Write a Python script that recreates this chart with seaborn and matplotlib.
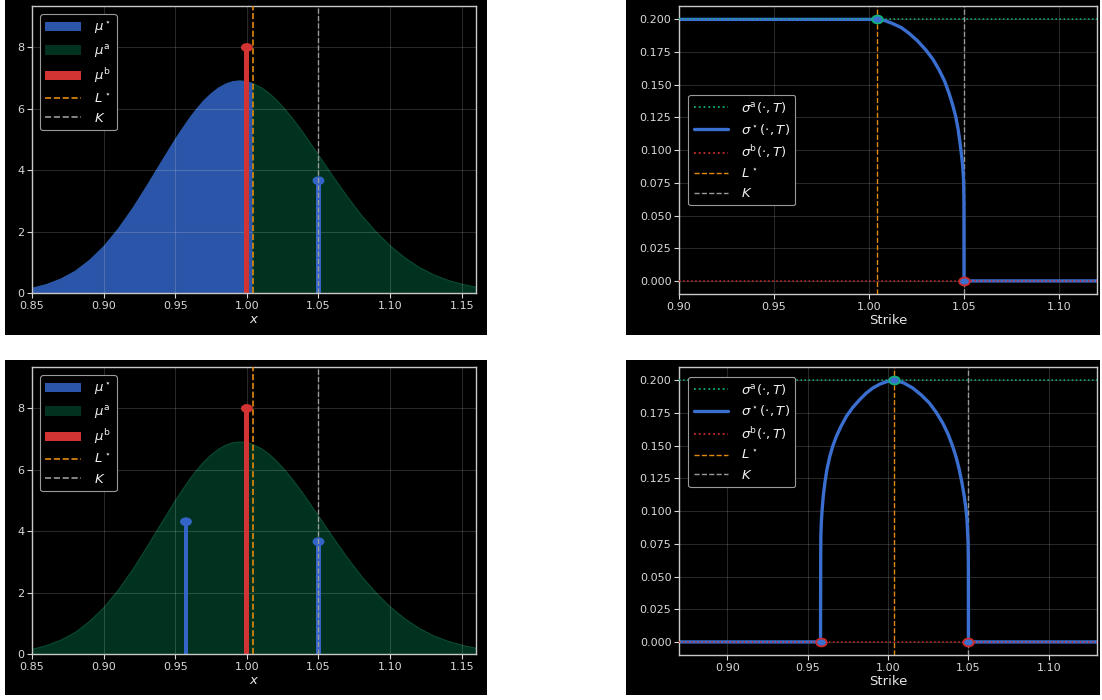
import numpy as np
import matplotlib.pyplot as plt
import seaborn as sns
from matplotlib.patches import Patch, Rectangle
from matplotlib.lines import Line2D
from matplotlib.markers import MarkerStyle
from matplotlib.transforms import Affine2D

# --- data ---
x_grid = [0.85, 0.86, 0.87, 0.88, 0.89, 0.90, 0.91, 0.92, 0.93, 0.94,
          0.95, 0.955, 0.96, 0.965, 0.97, 0.975, 0.98, 0.985, 0.99, 0.995,
          1.00, 1.004, 1.01, 1.015, 1.02, 1.025, 1.03, 1.035, 1.04, 1.045,
          1.05, 1.06, 1.07, 1.08, 1.09, 1.10, 1.11, 1.12, 1.13, 1.14,
          1.15, 1.16]
density = [0.17, 0.29, 0.47, 0.72, 1.08, 1.53, 2.10, 2.76, 3.50, 4.27,
           5.03, 5.38, 5.72, 6.02, 6.29, 6.51, 6.69, 6.82, 6.90, 6.925,
           6.90, 6.84, 6.70, 6.53, 6.32, 6.07, 5.79, 5.49, 5.17, 4.83,
           4.49, 3.80, 3.14, 2.53, 2.00, 1.54, 1.16, 0.85, 0.61, 0.43,
           0.30, 0.20]

L_star = 1.004
K = 1.05

# atoms: (location, mass)
mu_b_x, mu_b_h = [1.00], [8.0]
mu_star_top_x, mu_star_top_h = [1.05], [3.66]
mu_star_bot_x, mu_star_bot_h = [0.9575, 1.05], [4.31, 3.66]

# implied vol curves
sig_a = 0.20
sig_b = 0.0
strike_top = [0.90, 1.0041, 1.0080, 1.0123, 1.0170, 1.0211, 1.0255, 1.0299,
              1.0337, 1.0369, 1.0397, 1.0421, 1.0440, 1.0456, 1.0469, 1.0479,
              1.0487, 1.0493, 1.0498, 1.04995, 1.05, 1.12]
sig_top = [0.200, 0.200, 0.1992, 0.1969, 0.1937, 0.1893, 0.1836, 0.1766,
           0.1693, 0.1613, 0.1530, 0.1435, 0.1347, 0.1258, 0.1158, 0.1054,
           0.0960, 0.0877, 0.0757, 0.060, 0.0, 0.0]
strike_bot = [0.87, 0.958, 0.9581, 0.9582, 0.9585, 0.9590, 0.9597, 0.9607,
              0.9620, 0.9638, 0.9657, 0.9679, 0.9708, 0.9741, 0.9780, 0.9824,
              0.9864, 0.9906, 0.9952, 0.9999, 1.0042, 1.0095, 1.0153, 1.0205,
              1.0257, 1.0300, 1.0340, 1.0373, 1.0402, 1.0424, 1.0443, 1.0460,
              1.0474, 1.0484, 1.0491, 1.0498, 1.04995, 1.05, 1.13]
sig_bot = [0.0, 0.0, 0.060, 0.0808, 0.0915, 0.1012, 0.1115, 0.1216,
           0.1320, 0.1420, 0.1500, 0.1573, 0.1650, 0.1725, 0.1792, 0.1853,
           0.1902, 0.1942, 0.1973, 0.1993, 0.200, 0.1982, 0.1942, 0.1890,
           0.1827, 0.1755, 0.1674, 0.1590, 0.1496, 0.1410, 0.1318, 0.1215,
           0.1114, 0.1025, 0.0936, 0.0757, 0.060, 0.0, 0.0]

# colours
c_star = "#2b55a8"
c_a = "#00321f"
c_b = "#d23434"
c_stem = "#3464c8"
c_L = "#e08a10"
c_K = "#9a9a9a"
c_siga = "#10b07a"
c_sig = "#3a6fd0"
c_sigb = "#cc2a2a"

sns.set_theme(style="darkgrid", rc={
    "axes.facecolor": "black",
    "axes.edgecolor": "#c8c8c8",
    "axes.linewidth": 1.0,
    "grid.color": "#ffffff",
    "grid.alpha": 0.16,
    "grid.linewidth": 0.8,
    "text.color": "#e6e6e6",
    "axes.labelcolor": "#e6e6e6",
    "xtick.color": "#d8d8d8",
    "ytick.color": "#d8d8d8",
    "xtick.bottom": True,
    "ytick.left": True,
    "xtick.major.size": 3.5,
    "ytick.major.size": 3.5,
    "xtick.labelsize": 8,
    "ytick.labelsize": 8,
    "axes.labelsize": 9.5,
    "legend.fontsize": 9.5,
    "patch.edgecolor": "none",
})
plt.rcParams["font.family"] = ["DejaVu Sans"]

# dots in the reference are slightly wider than tall
dot = MarkerStyle("o", transform=Affine2D().scale(1.35, 1.0))

fig = plt.figure(figsize=(11.02, 7.0), dpi=100, facecolor="white")

# black panel backgrounds
for (x0, y0, w, h) in [(0.0045, 0.521, 0.437, 0.479), (0.568, 0.521, 0.430, 0.479),
                       (0.0045, 0.007, 0.437, 0.479), (0.568, 0.007, 0.430, 0.479)]:
    fig.patches.append(Rectangle((x0, y0), w, h, transform=fig.transFigure,
                                 facecolor="black", edgecolor="none", zorder=-10))

ax_tl = fig.add_axes([0.029, 0.5814, 0.403, 0.410])
ax_tr = fig.add_axes([0.6162, 0.580, 0.3793, 0.411])
ax_bl = fig.add_axes([0.029, 0.0657, 0.403, 0.410])
ax_br = fig.add_axes([0.6162, 0.0643, 0.3793, 0.411])

xa = np.array(x_grid)
da = np.array(density)


def density_panel(ax, stems_x, stems_h, show_star_fill):
    ax.set_axisbelow(True)
    ax.fill_between(xa, 0, da, facecolor=c_a, edgecolor="#0b4a30", lw=0.8, zorder=0.2)
    if show_star_fill:
        ax.fill_between(xa, 0, da, where=xa <= L_star + 1e-9, facecolor=c_star,
                        edgecolor="none", lw=0, zorder=0.3)
    ax.bar(stems_x, stems_h, width=0.0031, color=c_stem, edgecolor="none",
           linewidth=0, zorder=2)
    sns.scatterplot(x=stems_x, y=stems_h, ax=ax, color=c_stem, s=40, marker=dot,
                    edgecolor="none", linewidth=0, zorder=3, legend=False)
    ax.bar(mu_b_x, mu_b_h, width=0.0034, color=c_b, edgecolor="none",
           linewidth=0, zorder=2)
    sns.scatterplot(x=mu_b_x, y=mu_b_h, ax=ax, color=c_b, s=40, marker=dot,
                    edgecolor="none", linewidth=0, zorder=3, legend=False)
    ax.axvline(L_star, color=c_L, ls="--", lw=1.2, zorder=4)
    ax.axvline(K, color=c_K, ls="--", lw=1.0, zorder=4)
    ax.set_xlim(0.85, 1.16)
    ax.set_ylim(0, 9.35)
    ax.set_xticks([0.85, 0.90, 0.95, 1.00, 1.05, 1.10, 1.15])
    ax.set_yticks([0, 2, 4, 6, 8])
    ax.set_xlabel("$x$", labelpad=2)
    ax.set_ylabel("")
    handles = [Patch(facecolor=c_star, edgecolor="none", label=r"$\mu^\star$"),
               Patch(facecolor=c_a, edgecolor="none", label=r"$\mu^{\rm a}$"),
               Patch(facecolor=c_b, edgecolor="none", label=r"$\mu^{\rm b}$"),
               Line2D([], [], color=c_L, ls="--", lw=1.2, label=r"$L^\star$"),
               Line2D([], [], color=c_K, ls="--", lw=1.2, label=r"$K$")]
    leg = ax.legend(handles=handles, loc="upper left", facecolor="black",
                    edgecolor="#9a9a9a", framealpha=1, labelcolor="#f0f0f0",
                    handlelength=2.7, handletextpad=1.0, borderaxespad=0.6)
    leg.get_frame().set_linewidth(0.8)


def vol_panel(ax, strikes, sig, xlim, legend_loc, dots):
    ax.set_axisbelow(True)
    sns.lineplot(x=strikes, y=sig, ax=ax, color=c_sig, lw=2.4, sort=False,
                 estimator=None, zorder=2)
    ax.axhline(sig_a, color=c_siga, ls=":", lw=1.1, zorder=3)
    ax.axhline(sig_b, color=c_sigb, ls=":", lw=1.1, zorder=3)
    ax.axvline(L_star, color=c_L, ls="--", lw=1.0, zorder=1.5)
    ax.axvline(K, color=c_K, ls="--", lw=1.0, zorder=1.5)
    for (dx, dy, ec) in dots:
        ax.scatter([dx], [dy], s=32, marker=dot, color=c_sig, edgecolor=ec,
                   linewidth=1.3, zorder=5)
    ax.set_xlim(*xlim)
    ax.set_ylim(-0.01, 0.21)
    ax.set_xticks([0.90, 0.95, 1.00, 1.05, 1.10])
    ax.set_yticks([0.0, 0.025, 0.05, 0.075, 0.1, 0.125, 0.15, 0.175, 0.2])
    ax.yaxis.set_major_formatter(plt.FormatStrFormatter("%.3f"))
    ax.set_xlabel("Strike", labelpad=2)
    ax.set_ylabel("")
    handles = [Line2D([], [], color=c_siga, ls=":", lw=1.3, label=r"$\sigma^{\rm a}(\cdot, T)$"),
               Line2D([], [], color=c_sig, ls="-", lw=2.4, label=r"$\sigma^\star(\cdot, T)$"),
               Line2D([], [], color=c_sigb, ls=":", lw=1.3, label=r"$\sigma^{\rm b}(\cdot, T)$"),
               Line2D([], [], color=c_L, ls="--", lw=1.0, label=r"$L^\star$"),
               Line2D([], [], color=c_K, ls="--", lw=1.0, label=r"$K$")]
    leg = ax.legend(handles=handles, loc=legend_loc, facecolor="black",
                    edgecolor="#9a9a9a", framealpha=1, labelcolor="#f0f0f0",
                    handlelength=2.6, handletextpad=1.0, borderaxespad=0.7)
    leg.get_frame().set_linewidth(0.8)


density_panel(ax_tl, mu_star_top_x, mu_star_top_h, True)
density_panel(ax_bl, mu_star_bot_x, mu_star_bot_h, False)

vol_panel(ax_tr, strike_top, sig_top, (0.90, 1.12), "center left",
          [(L_star, sig_a, c_siga), (K, 0.0, c_sigb)])
vol_panel(ax_br, strike_bot, sig_bot, (0.87, 1.13), "upper left",
          [(0.958, 0.0, c_sigb), (L_star, sig_a, c_siga), (K, 0.0, c_sigb)])

for ax in [ax_tl, ax_tr, ax_bl, ax_br]:
    for sp in ax.spines.values():
        sp.set_color("#c8c8c8")
        sp.set_linewidth(1.0)
    ax.tick_params(length=3.5, width=0.8, pad=2)

fig.savefig("out.png", dpi=100, facecolor="white")
